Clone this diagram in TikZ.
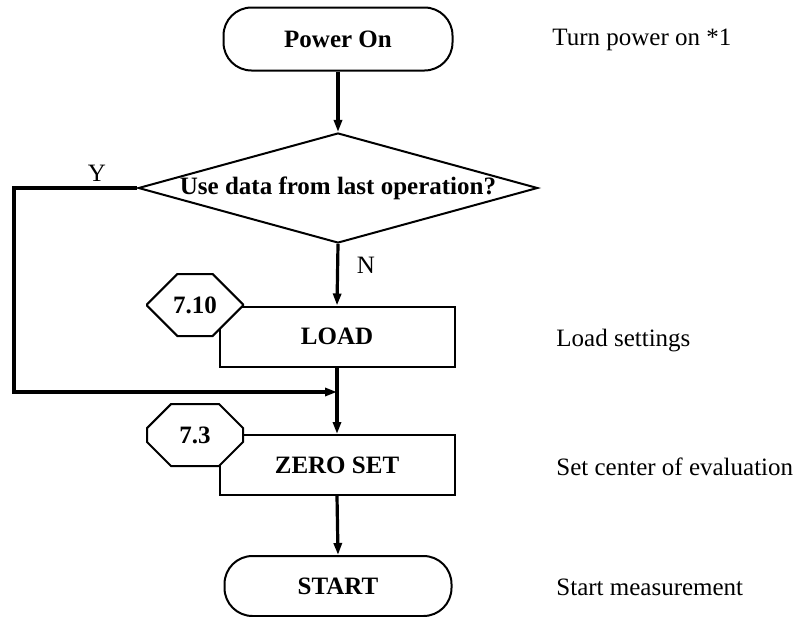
\documentclass[tikz,border=0pt]{standalone}
\usepackage{fontspec}
\setmainfont{Liberation Serif}
\usetikzlibrary{positioning,arrows.meta,shapes.geometric,shapes.misc}

\begin{document}
\begin{tikzpicture}[x=0.5pt, y=-0.5pt, font=\fontsize{12.5}{15}\selectfont,
    termbox/.style={draw, line width=1pt, rounded corners=14pt, minimum width=114.5pt, minimum height=31.5pt, font=\fontsize{12.5}{15}\selectfont\bfseries},
    procbox/.style={draw, line width=1pt, minimum width=117.5pt, minimum height=30pt, font=\fontsize{12.5}{15}\selectfont\bfseries},
    refbox/.style={chamfered rectangle, chamfered rectangle xsep=9pt, chamfered rectangle ysep=12pt, draw, fill=white, line width=1pt, minimum width=48pt, minimum height=31pt, inner sep=0pt, font=\fontsize{12.5}{15}\selectfont\bfseries},
    decbox/.style={diamond, draw, line width=1pt, shape aspect=3.63, inner sep=0pt, minimum width=199.5pt, minimum height=55pt, font=\fontsize{12.5}{15}\selectfont\bfseries},
    flow/.style={line width=1.6pt, -{Triangle[length=6pt,width=4pt]}},
    note/.style={anchor=west, inner sep=0pt}]
  \useasboundingbox (0,0) rectangle (797,616);
  % flow boxes
  \node[termbox] (power) at (338,39) {Power On};
  \node[decbox] (dec) at (338,188) {Use data from last operation?};
  \node[procbox] (load) at (337,336.5) {LOAD};
  \node[refbox] (refload) at (195,305) {7.10};
  \node[procbox] (zero) at (337,465) {ZERO SET};
  \node[refbox] (refzero) at (195,435) {7.3};
  \node[termbox, minimum width=113.5pt, minimum height=30pt] (start) at (338,586) {START};
  % connectors
  \coordinate (yleft) at (14,188);
  \coordinate (merge) at (337,392);
  \draw[flow] (power) -- (dec);
  \draw[flow] (dec.south) -- (load.north);
  \draw[flow] (dec.west) -- (yleft) |- (merge);
  \draw[flow] (load.south) -- (zero.north);
  \draw[flow] (zero.south) -- (start.north);
  \node (ylab) at (97,173) {Y};
  \node (nlab) at (366,265) {N};
  % notes
  \node[note] (note1) at (552,40) {Turn power on *1};
  \node[note] (note2) at (556,341) {Load settings};
  \node[note] (note3) at (556,467) {Set center of evaluation};
  \node[note] (note4) at (556,587) {Start measurement};
\end{tikzpicture}
\end{document}
